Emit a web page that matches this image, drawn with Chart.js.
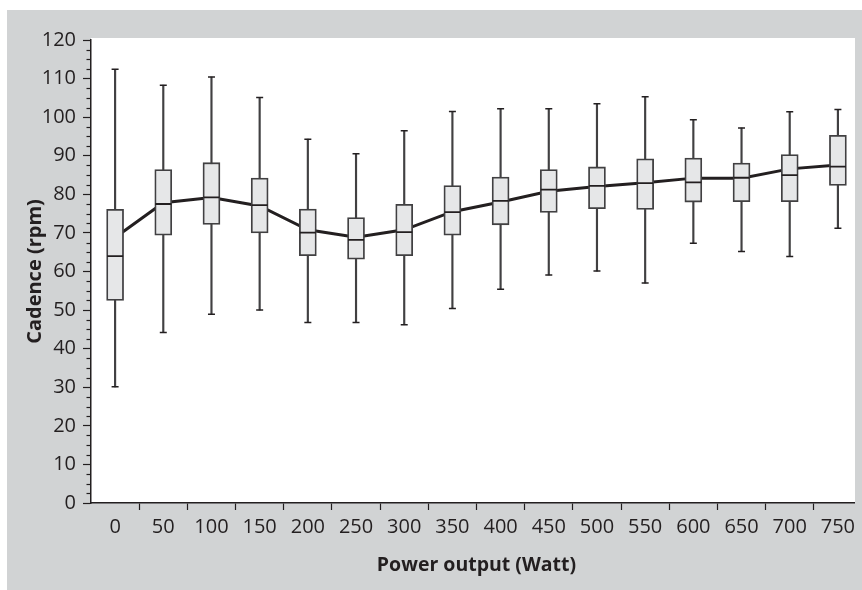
<!DOCTYPE html>
<html lang="en">
<head>
    <meta charset="UTF-8">
    <title>Cadence vs power output</title>
    <script src="https://cdn.jsdelivr.net/npm/chart.js"></script>
    <style>
        body { margin: 0; background: #fff; }
        canvas { display: block; }
    </style>
</head>
<body>
    <canvas id="cadenceChart" width="862" height="590"></canvas>

    <script>
        // Values (rpm)
        const powers = ['0', '50', '100', '150', '200', '250', '300', '350', '400', '450', '500', '550', '600', '650', '700', '750'];
        const whiskerMin = [30.1, 44.2, 48.9, 50.0, 46.8, 46.8, 46.2, 50.4, 55.4, 59.1, 60.1, 57.0, 67.3, 65.2, 63.9, 71.2];
        const q1 = [52.5, 69.4, 72.2, 70.0, 64.1, 63.2, 64.1, 69.4, 72.1, 75.3, 76.3, 76.1, 78.0, 78.1, 78.1, 82.3];
        const medians = [64.0, 77.5, 79.2, 77.2, 70.1, 68.2, 70.2, 75.4, 78.3, 81.2, 82.2, 82.9, 83.1, 84.3, 85.0, 87.2];
        const q3 = [76.1, 86.4, 88.2, 84.2, 76.2, 74.0, 77.4, 82.3, 84.5, 86.4, 87.1, 89.2, 89.4, 88.1, 90.3, 95.3];
        const whiskerMax = [112.4, 108.3, 110.4, 105.1, 94.3, 90.5, 96.5, 101.5, 102.2, 102.2, 103.5, 105.3, 99.3, 97.2, 101.4, 102.0];
        const means = [68.8, 77.8, 79.2, 77.0, 70.8, 68.9, 70.8, 75.5, 78.0, 80.8, 82.0, 83.0, 84.2, 84.2, 86.6, 87.6];

        const ink = '#231f20';
        const boxLine = '#414042';
        const panelGrey = '#d1d3d4';

        // grey panel, white plot area, minor y ticks, right-hand grey strip
        const panelPlugin = {
            id: 'panel',
            beforeDraw(chart) {
                const ctx = chart.ctx;
                const area = chart.chartArea;
                ctx.save();
                ctx.fillStyle = '#ffffff';
                ctx.fillRect(0, 0, chart.width, chart.height);
                ctx.fillStyle = panelGrey;
                ctx.fillRect(7, 10, chart.width - 7, chart.height - 10);
                ctx.fillStyle = '#ffffff';
                ctx.fillRect(area.left, area.top - 2, 855 - area.left, area.bottom - area.top + 2);
                ctx.restore();
            },
            afterDraw(chart) {
                const ctx = chart.ctx;
                const y = chart.scales.y;
                const left = chart.chartArea.left;
                ctx.save();
                ctx.strokeStyle = ink;
                ctx.lineWidth = 1.2;
                for (let v = 2.5; v < 120; v += 2.5) {
                    if (v % 10 === 0) continue;
                    const py = Math.round(y.getPixelForValue(v)) + 0.5;
                    ctx.beginPath();
                    ctx.moveTo(left - 4.5, py);
                    ctx.lineTo(left, py);
                    ctx.stroke();
                }
                ctx.fillStyle = panelGrey;
                ctx.fillRect(855, 10, chart.width - 855, chart.height - 10);
                ctx.restore();
            }
        };

        const ctx = document.getElementById('cadenceChart').getContext('2d');
        new Chart(ctx, {
            type: 'bar',
            data: {
                labels: powers,
                datasets: [
                    {
                        type: 'line',
                        label: 'Mean',
                        data: means,
                        borderColor: ink,
                        borderWidth: 3,
                        pointRadius: 0,
                        tension: 0,
                        order: 5
                    },
                    {
                        label: 'Whisker',
                        data: whiskerMin.map((v, i) => [v, whiskerMax[i]]),
                        backgroundColor: boxLine,
                        barThickness: 1.5,
                        grouped: false,
                        order: 4
                    },
                    {
                        label: 'Box',
                        data: q1.map((v, i) => [v, q3[i]]),
                        backgroundColor: '#e6e7e8',
                        borderColor: boxLine,
                        borderWidth: 1.8,
                        borderSkipped: false,
                        barThickness: 17,
                        grouped: false,
                        order: 3
                    },
                    {
                        type: 'line',
                        label: 'Median',
                        data: medians,
                        showLine: false,
                        pointStyle: 'line',
                        pointRadius: 8,
                        borderColor: ink,
                        borderWidth: 1.8,
                        order: 2
                    },
                    {
                        type: 'line',
                        label: 'Max',
                        data: whiskerMax,
                        showLine: false,
                        pointStyle: 'line',
                        pointRadius: 3.5,
                        borderColor: ink,
                        borderWidth: 1.5,
                        order: 1
                    },
                    {
                        type: 'line',
                        label: 'Min',
                        data: whiskerMin,
                        showLine: false,
                        pointStyle: 'line',
                        pointRadius: 3.5,
                        borderColor: ink,
                        borderWidth: 1.5,
                        order: 1
                    }
                ]
            },
            options: {
                responsive: false,
                animation: false,
                events: [],
                layout: { autoPadding: false, padding: { top: 40, left: 0, right: 0, bottom: 0 } },
                plugins: {
                    legend: { display: false },
                    tooltip: { enabled: false }
                },
                scales: {
                    x: {
                        afterFit: (scale) => { scale.height = 87; },
                        grid: {
                            drawOnChartArea: false,
                            tickLength: 7,
                            tickWidth: 1.2,
                            tickColor: (c) => c.index === 0 ? 'rgba(0,0,0,0)' : ink
                        },
                        border: { color: ink, width: 1.5 },
                        ticks: {
                            color: ink,
                            padding: 5,
                            maxRotation: 0,
                            autoSkip: false,
                            font: { family: 'Open Sans', size: 20 }
                        },
                        title: {
                            display: true,
                            text: 'Power output (Watt)',
                            color: ink,
                            padding: { top: 0, bottom: 13 },
                            font: { family: 'Open Sans', size: 19.5, weight: 'bold' }
                        }
                    },
                    y: {
                        min: 0,
                        max: 120,
                        afterFit: (scale) => { scale.width = 91; },
                        grid: {
                            drawOnChartArea: false,
                            tickLength: 8,
                            tickWidth: 1.2,
                            tickColor: ink
                        },
                        border: { color: ink, width: 1.5 },
                        ticks: {
                            stepSize: 10,
                            color: ink,
                            padding: 7,
                            font: { family: 'Open Sans', size: 20 }
                        },
                        title: {
                            display: true,
                            text: 'Cadence (rpm)',
                            color: ink,
                            padding: { top: 23.5, bottom: 0 },
                            font: { family: 'Open Sans', size: 20, weight: 'bold' }
                        }
                    }
                }
            },
            plugins: [panelPlugin]
        });
    </script>
</body>
</html>
